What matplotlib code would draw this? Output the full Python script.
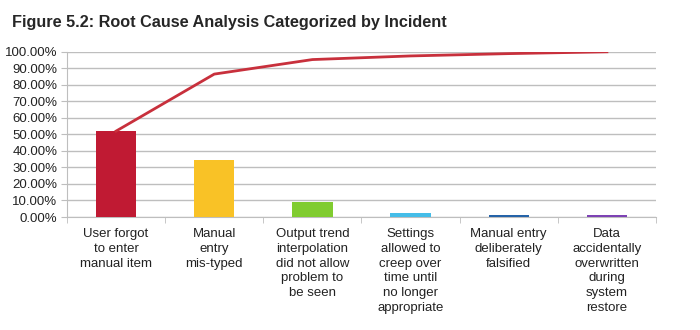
import numpy as np
import matplotlib.pyplot as plt
from matplotlib.ticker import FuncFormatter

plt.rcParams['font.family'] = ['Liberation Sans', 'DejaVu Sans']

causes = [
    'User forgot\nto enter\nmanual item',
    'Manual\nentry\nmis-typed',
    'Output trend\ninterpolation\ndid not allow\nproblem to\nbe seen',
    'Settings\nallowed to\ncreep over\ntime until\nno longer\nappropriate',
    'Manual entry\ndeliberately\nfalsified',
    'Data\naccidentally\noverwritten\nduring\nsystem\nrestore',
]
share = [52.0, 34.5, 8.8, 2.2, 1.4, 1.1]
bar_colors = ['#C01A33', '#F9C226', '#80CC30', '#45BDE8', '#2563A8', '#7D42B4']
cumulative = np.cumsum(share)

fig = plt.figure(figsize=(7, 3.3), dpi=100)
ax = fig.add_axes([67 / 700, 1 - 217 / 330, 589 / 700, 165.2 / 330])

x = np.arange(len(causes))
ax.bar(x, share, width=0.41, color=bar_colors, zorder=3)
ax.plot(x, cumulative, color='#C8303C', lw=2, zorder=4)

ax.set_xlim(-0.5, len(causes) - 0.5)
ax.set_ylim(0, 100)
ax.set_yticks(np.arange(0, 101, 10))
ax.yaxis.set_major_formatter(FuncFormatter(lambda v, p: '{:.2f}%'.format(v)))
ax.grid(axis='y', color='#BEBEBE', lw=1, zorder=0)

ax.set_xticks(x)
ax.set_xticklabels(causes, fontsize=9.5, linespacing=1.3, va='top', color='#222222')
ax.set_xticks(np.arange(-0.5, len(causes)), minor=True)
ax.tick_params(axis='x', which='major', length=0, pad=8)
ax.tick_params(axis='x', which='minor', length=4, color='#BEBEBE')
ax.tick_params(axis='y', length=4, color='#BEBEBE', labelsize=9.5, labelcolor='#222222', pad=3)

for side in ['top', 'right']:
    ax.spines[side].set_visible(False)
ax.spines['left'].set_color('#BEBEBE')
ax.spines['bottom'].set_color('#BEBEBE')

fig.text(12 / 700, 1 - 22 / 330, 'Figure 5.2: Root Cause Analysis Categorized by Incident',
         fontsize=11.7, fontweight='bold', color='#262626', va='center')

fig.savefig('out.png', dpi=100)
plt.close()
